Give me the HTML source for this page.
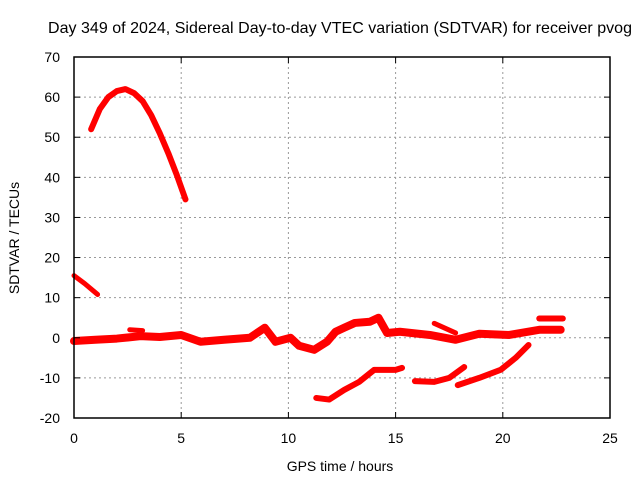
<!DOCTYPE html>
<html><head><meta charset="utf-8"><style>
body{margin:0;background:#fff}
svg{display:block;font-family:"Liberation Sans",sans-serif}
</style></head><body>
<svg id="chart" width="640" height="480">
<rect width="640" height="480" fill="#fff"/>
<text x="340" y="33" text-anchor="middle" font-size="16" textLength="584">Day 349 of 2024, Sidereal Day-to-day VTEC variation (SDTVAR) for receiver pvog</text>
<text x="340" y="471" text-anchor="middle" font-size="14">GPS time / hours</text>
<text x="19" y="238" text-anchor="middle" font-size="14" transform="rotate(-90 19 238)">SDTVAR / TECUs</text>
<g id="grid"></g><g id="series"></g>
<rect x="74" y="57" width="536" height="361" fill="none" stroke="#000" stroke-width="1.5"/>
<g id="ticks"></g>
</svg>
<script>
const xTicks=[0,5,10,15,20,25];
const yTicks=[-20,-10,0,10,20,30,40,50,60,70];
const segArcH=[0.8,1.2,1.6,2.0,2.4,2.8,3.2,3.6,4.0,4.4,4.8,5.2];
const segArcV=[52,57,60,61.5,62,61,59,55.5,51,46,40.5,34.5];
const segEarlyH=[0,0.5,1.1];
const segEarlyV=[15.5,13.5,10.8];
const mainH=[0,1,2,3.1,4,5,5.9,7,8.2,8.9,9.4,10.1,10.5,11.2,11.8,12.2,12.6,13.1,13.8,14.2,14.6,15.2,16.6,17.8,18.9,20.3,21.7,22.7];
const mainV=[-0.8,-0.5,-0.2,0.4,0.2,0.7,-1,-0.5,0,2.5,-1,0,-2,-3,-1,1.5,2.5,3.7,4,5,1.2,1.5,0.7,-0.5,1,0.7,2,2];
const blobH=[2.6,3.2];
const blobV=[2,1.8];
const upH=[16.8,17.8];
const upV=[3.6,1.2];
const tailH=[21.7,22.8];
const tailV=[4.8,4.8];
const negAH=[11.3,11.9,12.6,13.3,14,15,15.3];
const negAV=[-15,-15.4,-13,-11,-8,-8,-7.5];
const negBH=[15.9,16.8,17.5,18.2];
const negBV=[-10.8,-11,-10,-7.3];
const negCH=[17.9,18.9,19.9,20.6,21.2];
const negCV=[-11.8,-10,-8,-5,-1.8];
const X=h=>74+h*536/25, Y=v=>418-(v+20)*361/90;
const NS="http://www.w3.org/2000/svg";
const g=document.getElementById('grid'),s=document.getElementById('series'),t=document.getElementById('ticks');
function mk(tag,attrs,parent){const e=document.createElementNS(NS,tag);for(const k in attrs)e.setAttribute(k,attrs[k]);parent.appendChild(e);return e;}
xTicks.forEach(h=>{
 if(h>0&&h<25){const l=mk('line',{x1:X(h),x2:X(h),y1:57,y2:418,stroke:'#999','stroke-dasharray':'2,3'},g);
 
 }
 mk('line',{x1:X(h),x2:X(h),y1:418,y2:412,stroke:'#000'},t);mk('line',{x1:X(h),x2:X(h),y1:57,y2:63,stroke:'#000'},t);
 const tx=mk('text',{x:X(h),y:443,'text-anchor':'middle','font-size':14},t);tx.textContent=h;
 
 
});
yTicks.forEach(v=>{
 if(v>-20&&v<70){const l=mk('line',{x1:74,x2:610,y1:Y(v),y2:Y(v),stroke:'#999','stroke-dasharray':'2,3'},g);
 
 }
 mk('line',{x1:74,x2:80,y1:Y(v),y2:Y(v),stroke:'#000'},t);mk('line',{x1:604,x2:610,y1:Y(v),y2:Y(v),stroke:'#000'},t);
 const tx=mk('text',{x:60,y:Y(v)+5,'text-anchor':'end','font-size':14},t);tx.textContent=v;
 
 
});
function seg(H,V,w,name){
 const p=mk('polyline',{points:H.map((h,i)=>X(h)+','+Y(V[i])).join(' '),fill:'none',stroke:'#f00','stroke-width':w,'stroke-linejoin':'round','stroke-linecap':'round'},s);
 
 
}
seg(segArcH,segArcV,6,'series-arc');
seg(segEarlyH,segEarlyV,5,'series-early');
seg(mainH,mainV,8,'series-main');
seg(blobH,blobV,5,'series-blob');
seg(upH,upV,5,'series-up');
seg(tailH,tailV,6,'series-tail');
seg(negAH,negAV,6,'series-neg-a');
seg(negBH,negBV,6,'series-neg-b');
seg(negCH,negCV,6,'series-neg-c');
</script>
</body></html>
